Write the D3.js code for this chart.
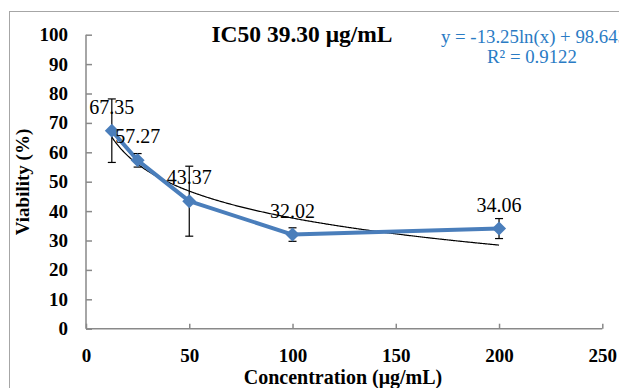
<!DOCTYPE html>
<html>
<head>
<meta charset="utf-8">
<script src="https://cdn.jsdelivr.net/npm/d3@7"></script>
<style>
html,body{margin:0;padding:0;background:#fff;}
svg{display:block;}
svg text{font-family:"Liberation Serif","Times New Roman",serif;}
</style>
</head>
<body>
<svg id="chart" width="619" height="388"></svg>
<script>
const concentrations = [12.5, 25, 50, 100, 200];
const viability = [67.35, 57.27, 43.37, 32.02, 34.06];
const errors = [10.8, 2.3, 11.9, 2.3, 3.4];
const xTicks = [0, 50, 100, 150, 200, 250];
const yTicks = [0, 10, 20, 30, 40, 50, 60, 70, 80, 90, 100];
const trendA = -13.25, trendB = 98.643;
const titleText = "IC50 39.30 μg/mL";
const eqText = "y = -13.25ln(x) + 98.643";
const r2Text = "R² = 0.9122";

const serif = "'Liberation Serif','Times New Roman',serif";
const svg = d3.select("#chart").attr("font-family", serif);
const blue = "#4a7ebb";
const axisGray = "#898989";

// outer chart border
svg.append("rect").attr("x", 9.5).attr("y", 11.5).attr("width", 800).attr("height", 600)
  .attr("fill", "none").attr("stroke", "#a6a6a6").attr("stroke-width", 1);

const x = d3.scaleLinear().domain([0, 250]).range([86, 602.3]);
const y = d3.scaleLinear().domain([0, 100]).range([328.7, 34.7]);

// axes
const yAxis = svg.append("g").attr("transform", "translate(86,0)")
  .call(d3.axisLeft(y).tickValues(yTicks).tickSize(-6).tickPadding(18).tickFormat(d3.format("d")));
const xAxis = svg.append("g").attr("transform", "translate(0,328.7)")
  .call(d3.axisBottom(x).tickValues(xTicks).tickSize(-5).tickPadding(20).tickFormat(d3.format("d")));
[yAxis, xAxis].forEach(g => {
  g.attr("font-family", serif);
  g.select(".domain").attr("stroke", axisGray).attr("stroke-width", 1.5);
  g.selectAll(".tick line").attr("stroke", axisGray).attr("stroke-width", 1.5);
  g.selectAll(".tick text").attr("fill", "#000").attr("font-size", 19).attr("font-weight", "bold")
    .attr("font-family", serif);
});
yAxis.select(".domain").attr("d", `M0,${y(100)}V${y(0)}`);
xAxis.select(".domain").attr("d", `M${x(0)},0H${x(250)}`);

// trendline
const trendXs = d3.range(12.5, 200.01, 0.5);
svg.append("path").datum(trendXs)
  .attr("fill", "none").attr("stroke", "#000").attr("stroke-width", 1.2)
  .attr("d", d3.line().x(d => x(d)).y(d => y(trendA * Math.log(d) + trendB)));

const data = concentrations.map((c, i) => ({c, v: viability[i], e: errors[i]}));

// series line
svg.append("path").datum(data)
  .attr("fill", "none").attr("stroke", blue).attr("stroke-width", 4).attr("stroke-linejoin", "round")
  .attr("d", d3.line().x(d => x(d.c)).y(d => y(d.v)));

// error bars
const eb = svg.append("g").attr("stroke", "#000").attr("stroke-width", 1.2);
data.forEach(d => {
  eb.append("line").attr("x1", x(d.c)).attr("x2", x(d.c)).attr("y1", y(d.v - d.e)).attr("y2", y(d.v + d.e));
  [d.v - d.e, d.v + d.e].forEach(v => {
    eb.append("line").attr("x1", x(d.c) - 4).attr("x2", x(d.c) + 4).attr("y1", y(v)).attr("y2", y(v));
  });
});

// markers
svg.append("g").selectAll("path").data(data).join("path")
  .attr("transform", d => `translate(${x(d.c)},${y(d.v)})`)
  .attr("d", "M0,-7L7,0L0,7L-7,0Z").attr("fill", blue);

// data labels
svg.append("g").selectAll("text").data(data).join("text")
  .attr("x", d => x(d.c)).attr("y", d => y(d.v) - 17)
  .attr("text-anchor", "middle").attr("font-size", 20).attr("fill", "#000").attr("font-family", serif)
  .text(d => d.v.toFixed(2));

// title
svg.append("text").attr("x", 302).attr("y", 42).attr("text-anchor", "middle").attr("font-family", serif)
  .attr("font-size", 23.5).attr("font-weight", "bold").text(titleText);

// equation
svg.append("text").attr("x", 441).attr("y", 43).attr("font-size", 18.8).attr("font-family", serif)
  .attr("fill", "#2a7bc4").text(eqText);
svg.append("text").attr("x", 532).attr("y", 63).attr("text-anchor", "middle").attr("font-size", 18.8)
  .attr("font-family", serif).attr("fill", "#2a7bc4").text(r2Text);

// axis titles
svg.append("text").attr("transform", "translate(29,182) rotate(-90)").attr("text-anchor", "middle")
  .attr("font-family", serif).attr("font-size", 19).attr("font-weight", "bold").text("Viability (%)");
svg.append("text").attr("x", 343).attr("y", 384).attr("text-anchor", "middle").attr("font-family", serif)
  .attr("font-size", 20).attr("font-weight", "bold").text("Concentration (μg/mL)");
</script>
</body>
</html>
